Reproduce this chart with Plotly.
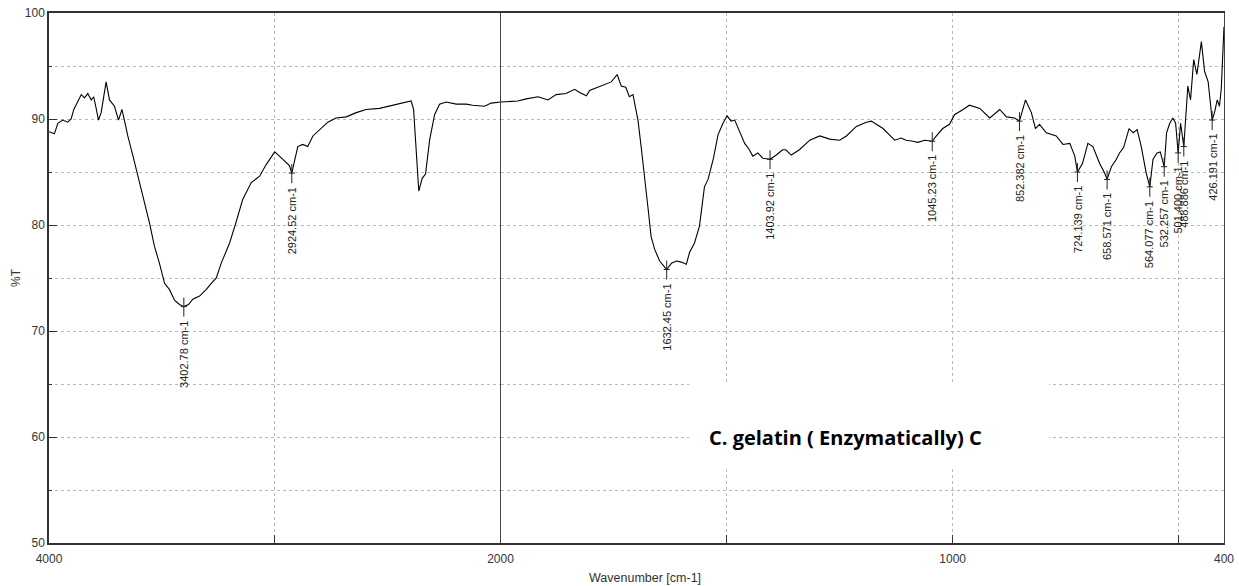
import plotly.graph_objects as go

# ---- FTIR spectrum (wavenumber in cm-1, %T) ----
wavenumber = [4000, 3976, 3961, 3939, 3917, 3902, 3890, 3872, 3857, 3843, 3828, 3813, 3802,
              3791, 3781, 3769, 3747, 3732, 3710, 3692, 3677, 3666, 3651, 3629, 3607, 3592,
              3577, 3555, 3533, 3511, 3488, 3466, 3444, 3422, 3382, 3363, 3333, 3304, 3281,
              3259, 3237, 3200, 3171, 3142, 3104, 3067, 3038, 3000, 2964, 2935, 2898, 2876,
              2854, 2831, 2802, 2765, 2728, 2683, 2639, 2595, 2536, 2477, 2433, 2396, 2385,
              2373, 2362, 2347, 2332, 2314, 2292, 2270, 2240, 2196, 2152, 2123, 2071, 2041,
              2000, 1962, 1943, 1917, 1895, 1877, 1855, 1836, 1825, 1810, 1803, 1777, 1755,
              1742, 1733, 1723, 1715, 1707, 1696, 1689, 1681, 1674, 1667, 1659, 1648, 1637,
              1622, 1611, 1600, 1589, 1582, 1571, 1560, 1549, 1541, 1529, 1519, 1508, 1499,
              1490, 1482, 1471, 1460, 1451, 1442, 1431, 1420, 1390, 1376, 1369, 1357, 1339,
              1316, 1294, 1272, 1250, 1235, 1213, 1191, 1180, 1169, 1154, 1140, 1128, 1114,
              1103, 1088, 1077, 1062, 1036, 1022, 1007, 996, 977, 963, 940, 918, 896, 881,
              863, 839, 826, 817, 808, 793, 771, 756, 741, 730, 713, 701, 690, 675, 664, 649,
              638, 631, 622, 610, 601, 592, 583, 572, 557, 548, 541, 527, 520, 513, 507, 496,
              485, 480, 474, 467, 460, 450, 443, 435, 421, 415, 410, 406, 400]
transmittance = [88.8, 88.6, 89.6, 89.9, 89.7, 90.0, 90.9, 91.7, 92.3, 92.0, 92.4, 91.8, 92.1,
                 91.0, 89.9, 90.6, 93.5, 91.8, 91.2, 89.9, 90.9, 89.9, 88.4, 86.6, 84.6, 83.2,
                 82.1, 80.2, 78.0, 76.4, 74.5, 73.9, 72.9, 72.5, 72.5, 73.0, 73.3, 73.9, 74.5,
                 75.0, 76.4, 78.3, 80.3, 82.4, 84.0, 84.6, 85.7, 86.9, 86.2, 85.6, 87.4, 87.6,
                 87.4, 88.4, 89.0, 89.7, 90.1, 90.2, 90.6, 90.9, 91.0, 91.3, 91.5, 91.7, 90.9,
                 87.1, 83.2, 84.4, 84.8, 88.0, 90.4, 91.4, 91.6, 91.4, 91.4, 91.3, 91.2, 91.5,
                 91.6, 91.7, 91.9, 92.1, 91.8, 92.3, 92.4, 92.8, 92.5, 92.2, 92.7, 93.1, 93.5,
                 94.2, 93.1, 93.0, 92.1, 92.3, 89.9, 87.4, 84.6, 81.7, 78.9, 77.7, 76.6, 76.1,
                 76.4, 76.6, 76.5, 76.3, 77.4, 78.3, 79.9, 83.6, 84.3, 86.3, 88.5, 89.6, 90.3,
                 89.8, 89.9, 88.8, 87.7, 87.2, 86.5, 86.8, 86.3, 86.6, 87.1, 87.1, 86.6, 87.1,
                 88.0, 88.4, 88.1, 88.0, 88.4, 89.3, 89.7, 89.8, 89.5, 89.1, 88.5, 88.0, 88.2,
                 88.0, 87.9, 87.8, 88.0, 88.4, 89.1, 89.5, 90.4, 90.9, 91.3, 91.0, 90.1, 90.9, 90.2,
                 90.1, 91.8, 90.6, 89.1, 89.5, 88.7, 88.4, 87.6, 87.7, 86.5, 85.8, 87.7, 87.4, 85.8, 84.9, 85.5,
                 86.2, 86.8, 87.3, 89.1, 88.7, 89.0, 87.4, 84.9, 86.2, 86.8, 86.9, 88.7, 89.6, 90.1, 89.6, 89.6,
                 89.9, 93.1, 91.8, 95.6, 94.2, 97.3, 94.5, 93.5, 90.6, 91.8, 91.2, 92.9, 98.7]

# ---- labelled peaks ----
peak_wn = [3402.78, 2924.52, 1632.45, 1403.92, 1045.23, 852.382, 724.139, 658.571,
           564.077, 532.257, 501.400, 488.886, 426.191]
peak_T = [72.3, 84.9, 75.8, 86.2, 87.9, 89.8, 85.0, 84.3, 83.6, 85.5, 86.8, 87.4, 89.9]
peak_labels = ["3402.78 cm-1", "2924.52 cm-1", "1632.45 cm-1", "1403.92 cm-1", "1045.23 cm-1",
               "852.382 cm-1", "724.139 cm-1", "658.571 cm-1", "564.077 cm-1", "532.257 cm-1",
               "501.400 cm-1", "488.886 cm-1", "426.191 cm-1"]

x_ticks_hi = [4000, 3000, 2000]
x_text_hi = ["4000", "", "2000"]
x_ticks_lo = [2000, 1500, 1000, 500, 400]
x_text_lo = ["", "", "1000", "", "400"]

SPLIT = 2000
pts = sorted(zip(wavenumber + peak_wn, transmittance + peak_T), reverse=True)
hi = [p for p in pts if p[0] >= SPLIT]
lo = [p for p in pts if p[0] <= SPLIT]

fig = go.Figure()
line_style = dict(color="#000000", width=1.1)
fig.add_trace(go.Scatter(x=[p[0] for p in hi], y=[p[1] for p in hi], mode="lines",
                         line=line_style, xaxis="x", yaxis="y", showlegend=False, hoverinfo="skip"))
fig.add_trace(go.Scatter(x=[p[0] for p in lo], y=[p[1] for p in lo], mode="lines",
                         line=line_style, xaxis="x2", yaxis="y2", showlegend=False, hoverinfo="skip"))

FONT = "Liberation Sans, Arial, sans-serif"
tickfont = dict(family=FONT, size=12, color="#333333")
grid = dict(showgrid=True, gridcolor="#b8b8b8", griddash="dot", gridwidth=1)
axline = dict(showline=True, linecolor="#333333", linewidth=1.5)

W_PLOT = 1239 - 49 - 15
D = 451.5 / W_PLOT

shapes = []
annotations = []
for w, t, lbl in zip(peak_wn, peak_T, peak_labels):
    ax = "x" if w >= SPLIT else "x2"
    ay = "y" if w >= SPLIT else "y2"
    shapes.append(dict(type="line", xref=ax, yref=ay, x0=w, x1=w, ysizemode="pixel",
                       yanchor=t, y0=-10, y1=9, line=dict(color="#222222", width=1)))
    shapes.append(dict(type="line", xref=ax, yref=ay, xsizemode="pixel", xanchor=w,
                       x0=-3, x1=3, y0=t, y1=t, line=dict(color="#222222", width=1)))
    annotations.append(dict(x=w, y=t, xref=ax, yref=ay, text=lbl, textangle=-90,
                            showarrow=False, xanchor="center", yanchor="top", yshift=-12,
                            font=dict(family=FONT, size=11, color="#222222")))

# white text box for the sample caption
shapes.append(dict(type="rect", xref="paper", yref="paper", x0=0.545, x1=0.851, y0=0.144,
                   y1=0.302, fillcolor="white", line=dict(width=0), layer="above"))
annotations.append(dict(x=0.678, y=0.199, xref="paper", yref="paper", showarrow=False,
                        text="<b>C. gelatin ( Enzymatically) C</b>", xanchor="center",
                        yanchor="middle",
                        font=dict(family="Open Sans, sans-serif", size=20, color="#000000")))
# axis titles
annotations.append(dict(x=0.507, y=0, xref="paper", yref="paper", showarrow=False,
                        text="Wavenumber [cm-1]", xanchor="center", yanchor="top", yshift=-26,
                        font=dict(family=FONT, size=12.5, color="#333333")))
annotations.append(dict(x=0, y=0.5, xref="paper", yref="paper", showarrow=False,
                        text="%T", textangle=-90, xanchor="center", yanchor="middle",
                        xshift=-33, font=dict(family=FONT, size=12, color="#333333")))

fig.update_layout(
    template="none",
    width=1239, height=586,
    margin=dict(l=49, r=15, t=13, b=43, autoexpand=False),
    paper_bgcolor="white", plot_bgcolor="white",
    xaxis=dict(domain=[0, D], range=[4000, 2000], tickmode="array", tickvals=x_ticks_hi,
               ticktext=x_text_hi, ticks="inside", ticklen=8, tickcolor="#333333",
               tickfont=tickfont, zeroline=False, mirror=True, anchor="y", automargin=False,
               ticklabelstandoff=4, **grid, **axline),
    xaxis2=dict(domain=[D, 1], range=[2000, 400], tickmode="array", tickvals=x_ticks_lo,
                ticktext=x_text_lo, ticks="inside", ticklen=8, tickcolor="#333333",
                tickfont=tickfont, zeroline=False, mirror=True, anchor="y2", automargin=False,
                ticklabelstandoff=4, **grid, **axline),
    yaxis=dict(range=[50, 100], tick0=50, dtick=10, ticks="inside", ticklen=8,
               tickcolor="#333333", tickfont=tickfont, zeroline=False, anchor="x",
               automargin=False,
               minor=dict(dtick=5, ticks="inside", ticklen=3, tickcolor="#333333",
                          showgrid=True, gridcolor="#b8b8b8", griddash="dot"),
               **grid, **axline),
    yaxis2=dict(range=[50, 100], matches="y", tick0=50, dtick=10, ticks="",
                showticklabels=False, zeroline=False, anchor="x2", mirror=True,
                automargin=False,
                minor=dict(dtick=5, showgrid=True, gridcolor="#b8b8b8", griddash="dot"),
                showgrid=True, gridcolor="#b8b8b8", griddash="dot", gridwidth=1,
                showline=True, linecolor="#444444", linewidth=1.3),
    shapes=shapes,
    annotations=annotations,
)

fig.write_html("out.html")
